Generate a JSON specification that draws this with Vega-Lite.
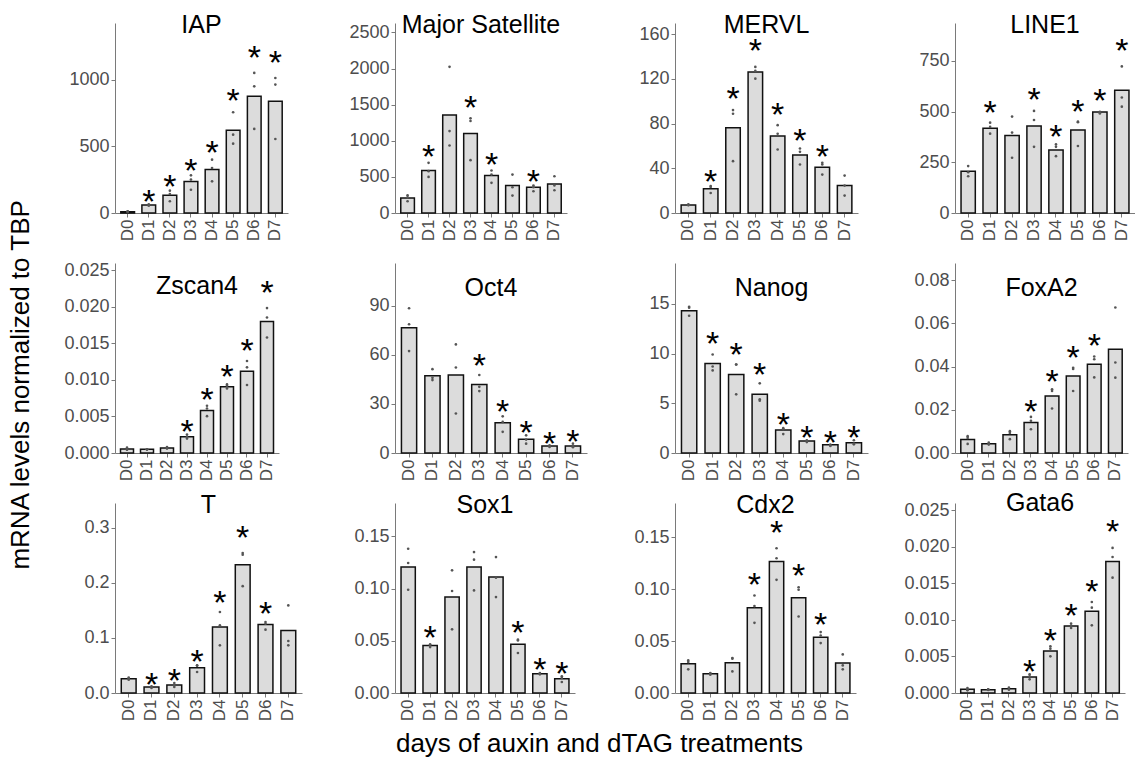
{
  "$schema": "https://vega.github.io/schema/vega-lite/v6.json",
  "background": "white",
  "padding": {"left": 7, "top": 13, "right": 0, "bottom": 0},
  "title": {"text": "mRNA levels normalized to TBP", "orient": "left", "fontSize": 26, "offset": 30, "anchor": "middle", "color": "black", "fontWeight": "normal", "font": "Liberation Sans"},
  "datasets": {
    "d": [
      {"g": "IAP", "d": "D0", "m": 10, "r1": 12, "r2": 9, "r3": 10, "s": 0},
      {"g": "IAP", "d": "D1", "m": 60, "r1": 65, "r2": 60, "r3": 55, "s": 1},
      {"g": "IAP", "d": "D2", "m": 133, "r1": 168, "r2": 143, "r3": 88, "s": 1},
      {"g": "IAP", "d": "D3", "m": 236, "r1": 283, "r2": 251, "r3": 175, "s": 1},
      {"g": "IAP", "d": "D4", "m": 326, "r1": 401, "r2": 338, "r3": 238, "s": 1},
      {"g": "IAP", "d": "D5", "m": 622, "r1": 757, "r2": 589, "r3": 521, "s": 1},
      {"g": "IAP", "d": "D6", "m": 877, "r1": 1053, "r2": 952, "r3": 632, "s": 1},
      {"g": "IAP", "d": "D7", "m": 840, "r1": 1015, "r2": 965, "r3": 556, "s": 1},
      {"g": "MS", "d": "D0", "m": 208, "r1": 245, "r2": 217, "r3": 162, "s": 0},
      {"g": "MS", "d": "D1", "m": 588, "r1": 694, "r2": 579, "r3": 500, "s": 1},
      {"g": "MS", "d": "D2", "m": 1356, "r1": 2023, "r2": 1134, "r3": 935, "s": 0},
      {"g": "MS", "d": "D3", "m": 1102, "r1": 1310, "r2": 1273, "r3": 731, "s": 1},
      {"g": "MS", "d": "D4", "m": 518, "r1": 588, "r2": 532, "r3": 417, "s": 1},
      {"g": "MS", "d": "D5", "m": 380, "r1": 532, "r2": 356, "r3": 241, "s": 0},
      {"g": "MS", "d": "D6", "m": 356, "r1": 380, "r2": 356, "r3": 301, "s": 1},
      {"g": "MS", "d": "D7", "m": 403, "r1": 509, "r2": 380, "r3": 315, "s": 0},
      {"g": "MERVL", "d": "D0", "m": 7.2, "r1": 7.8, "r2": 7.2, "r3": 6.9, "s": 0},
      {"g": "MERVL", "d": "D1", "m": 21.8, "r1": 24.2, "r2": 23.3, "r3": 17.9, "s": 1},
      {"g": "MERVL", "d": "D2", "m": 76.3, "r1": 92.1, "r2": 88.8, "r3": 46.4, "s": 1},
      {"g": "MERVL", "d": "D3", "m": 126.2, "r1": 130.7, "r2": 127.1, "r3": 120.2, "s": 1},
      {"g": "MERVL", "d": "D4", "m": 68.8, "r1": 78.6, "r2": 70.9, "r3": 56.8, "s": 1},
      {"g": "MERVL", "d": "D5", "m": 52, "r1": 57.7, "r2": 54.7, "r3": 43.4, "s": 1},
      {"g": "MERVL", "d": "D6", "m": 41, "r1": 44.9, "r2": 43.4, "r3": 34.4, "s": 1},
      {"g": "MERVL", "d": "D7", "m": 24.5, "r1": 33.5, "r2": 24.5, "r3": 15.6, "s": 0},
      {"g": "LINE1", "d": "D0", "m": 206, "r1": 231, "r2": 201, "r3": 181, "s": 0},
      {"g": "LINE1", "d": "D1", "m": 417, "r1": 445, "r2": 424, "r3": 391, "s": 1},
      {"g": "LINE1", "d": "D2", "m": 382, "r1": 475, "r2": 396, "r3": 272, "s": 0},
      {"g": "LINE1", "d": "D3", "m": 428, "r1": 503, "r2": 458, "r3": 326, "s": 1},
      {"g": "LINE1", "d": "D4", "m": 310, "r1": 338, "r2": 326, "r3": 280, "s": 1},
      {"g": "LINE1", "d": "D5", "m": 409, "r1": 450, "r2": 447, "r3": 330, "s": 1},
      {"g": "LINE1", "d": "D6", "m": 498, "r1": 498, "r2": 494, "r3": 490, "s": 1},
      {"g": "LINE1", "d": "D7", "m": 605, "r1": 722, "r2": 569, "r3": 524, "s": 1},
      {"g": "Zscan4", "d": "D0", "m": 0.00055, "r1": 0.00073, "r2": 0.0005, "r3": 0.00046, "s": 0},
      {"g": "Zscan4", "d": "D1", "m": 0.0005, "r1": 0.00052, "r2": 0.0005, "r3": 0.00048, "s": 0},
      {"g": "Zscan4", "d": "D2", "m": 0.00069, "r1": 0.00082, "r2": 0.00069, "r3": 0.0006, "s": 0},
      {"g": "Zscan4", "d": "D3", "m": 0.00224, "r1": 0.00252, "r2": 0.0022, "r3": 0.00197, "s": 1},
      {"g": "Zscan4", "d": "D4", "m": 0.00581, "r1": 0.00646, "r2": 0.00609, "r3": 0.00504, "s": 1},
      {"g": "Zscan4", "d": "D5", "m": 0.00907, "r1": 0.00939, "r2": 0.0092, "r3": 0.00884, "s": 1},
      {"g": "Zscan4", "d": "D6", "m": 0.01117, "r1": 0.01259, "r2": 0.01172, "r3": 0.0093, "s": 1},
      {"g": "Zscan4", "d": "D7", "m": 0.018, "r1": 0.01983, "r2": 0.01854, "r3": 0.0158, "s": 1},
      {"g": "Oct4", "d": "D0", "m": 76.5, "r1": 88.4, "r2": 78.6, "r3": 62.2, "s": 0},
      {"g": "Oct4", "d": "D1", "m": 47.1, "r1": 51.2, "r2": 45.9, "r3": 44.5, "s": 0},
      {"g": "Oct4", "d": "D2", "m": 47.6, "r1": 66.3, "r2": 52.2, "r3": 24.1, "s": 0},
      {"g": "Oct4", "d": "D3", "m": 41.8, "r1": 47.6, "r2": 40.4, "r3": 37.8, "s": 1},
      {"g": "Oct4", "d": "D4", "m": 18.4, "r1": 22.4, "r2": 19.0, "r3": 12.9, "s": 1},
      {"g": "Oct4", "d": "D5", "m": 8.4, "r1": 10.8, "r2": 8.2, "r3": 5.7, "s": 1},
      {"g": "Oct4", "d": "D6", "m": 4.3, "r1": 4.7, "r2": 4.3, "r3": 3.7, "s": 1},
      {"g": "Oct4", "d": "D7", "m": 4.3, "r1": 5.7, "r2": 4.1, "r3": 3.5, "s": 1},
      {"g": "Nanog", "d": "D0", "m": 14.3, "r1": 14.7, "r2": 14.6, "r3": 13.8, "s": 0},
      {"g": "Nanog", "d": "D1", "m": 9.0, "r1": 9.9, "r2": 8.7, "r3": 8.3, "s": 1},
      {"g": "Nanog", "d": "D2", "m": 7.9, "r1": 8.9, "r2": 8.9, "r3": 5.9, "s": 1},
      {"g": "Nanog", "d": "D3", "m": 5.9, "r1": 7.0, "r2": 5.4, "r3": 5.25, "s": 1},
      {"g": "Nanog", "d": "D4", "m": 2.3, "r1": 2.5, "r2": 2.4, "r3": 1.9, "s": 1},
      {"g": "Nanog", "d": "D5", "m": 1.2, "r1": 1.28, "r2": 1.2, "r3": 1.1, "s": 1},
      {"g": "Nanog", "d": "D6", "m": 0.84, "r1": 0.84, "r2": 0.77, "r3": 0.7, "s": 1},
      {"g": "Nanog", "d": "D7", "m": 1.04, "r1": 1.28, "r2": 0.94, "r3": 0.87, "s": 1},
      {"g": "FoxA2", "d": "D0", "m": 0.0062, "r1": 0.0078, "r2": 0.007, "r3": 0.0042, "s": 0},
      {"g": "FoxA2", "d": "D1", "m": 0.0043, "r1": 0.0048, "r2": 0.0043, "r3": 0.0039, "s": 0},
      {"g": "FoxA2", "d": "D2", "m": 0.0084, "r1": 0.0101, "r2": 0.0093, "r3": 0.0064, "s": 0},
      {"g": "FoxA2", "d": "D3", "m": 0.0141, "r1": 0.0167, "r2": 0.0149, "r3": 0.011, "s": 1},
      {"g": "FoxA2", "d": "D4", "m": 0.0264, "r1": 0.0295, "r2": 0.0287, "r3": 0.0206, "s": 1},
      {"g": "FoxA2", "d": "D5", "m": 0.0357, "r1": 0.0395, "r2": 0.0389, "r3": 0.0287, "s": 1},
      {"g": "FoxA2", "d": "D6", "m": 0.0411, "r1": 0.0447, "r2": 0.0434, "r3": 0.035, "s": 1},
      {"g": "FoxA2", "d": "D7", "m": 0.0481, "r1": 0.0674, "r2": 0.0419, "r3": 0.0349, "s": 0},
      {"g": "T", "d": "D0", "m": 0.026, "r1": 0.0278, "r2": 0.026, "r3": 0.0242, "s": 0},
      {"g": "T", "d": "D1", "m": 0.0109, "r1": 0.0121, "r2": 0.0109, "r3": 0.0091, "s": 1},
      {"g": "T", "d": "D2", "m": 0.0145, "r1": 0.0181, "r2": 0.0139, "r3": 0.0109, "s": 1},
      {"g": "T", "d": "D3", "m": 0.046, "r1": 0.0502, "r2": 0.0497, "r3": 0.0381, "s": 1},
      {"g": "T", "d": "D4", "m": 0.12, "r1": 0.147, "r2": 0.1228, "r3": 0.0865, "s": 1},
      {"g": "T", "d": "D5", "m": 0.233, "r1": 0.254, "r2": 0.251, "r3": 0.194, "s": 1},
      {"g": "T", "d": "D6", "m": 0.1246, "r1": 0.1289, "r2": 0.1258, "r3": 0.115, "s": 1},
      {"g": "T", "d": "D7", "m": 0.1137, "r1": 0.159, "r2": 0.0944, "r3": 0.0865, "s": 0},
      {"g": "Sox1", "d": "D0", "m": 0.1207, "r1": 0.1382, "r2": 0.1245, "r3": 0.0989, "s": 0},
      {"g": "Sox1", "d": "D1", "m": 0.0456, "r1": 0.0466, "r2": 0.0456, "r3": 0.044, "s": 1},
      {"g": "Sox1", "d": "D2", "m": 0.0919, "r1": 0.1175, "r2": 0.0977, "r3": 0.061, "s": 0},
      {"g": "Sox1", "d": "D3", "m": 0.1207, "r1": 0.135, "r2": 0.1277, "r3": 0.0983, "s": 0},
      {"g": "Sox1", "d": "D4", "m": 0.111, "r1": 0.1302, "r2": 0.1104, "r3": 0.0919, "s": 0},
      {"g": "Sox1", "d": "D5", "m": 0.0466, "r1": 0.0511, "r2": 0.0504, "r3": 0.0383, "s": 1},
      {"g": "Sox1", "d": "D6", "m": 0.0185, "r1": 0.0191, "r2": 0.0185, "r3": 0.0179, "s": 1},
      {"g": "Sox1", "d": "D7", "m": 0.0137, "r1": 0.016, "r2": 0.0144, "r3": 0.0105, "s": 1},
      {"g": "Cdx2", "d": "D0", "m": 0.0282, "r1": 0.0314, "r2": 0.0298, "r3": 0.0228, "s": 0},
      {"g": "Cdx2", "d": "D1", "m": 0.0186, "r1": 0.0192, "r2": 0.0186, "r3": 0.0176, "s": 0},
      {"g": "Cdx2", "d": "D2", "m": 0.0292, "r1": 0.0337, "r2": 0.0331, "r3": 0.0208, "s": 0},
      {"g": "Cdx2", "d": "D3", "m": 0.082, "r1": 0.0939, "r2": 0.0837, "r3": 0.0676, "s": 1},
      {"g": "Cdx2", "d": "D4", "m": 0.1266, "r1": 0.1394, "r2": 0.1298, "r3": 0.109, "s": 1},
      {"g": "Cdx2", "d": "D5", "m": 0.0917, "r1": 0.1019, "r2": 0.0994, "r3": 0.0737, "s": 1},
      {"g": "Cdx2", "d": "D6", "m": 0.0538, "r1": 0.0587, "r2": 0.0554, "r3": 0.0481, "s": 1},
      {"g": "Cdx2", "d": "D7", "m": 0.0288, "r1": 0.0372, "r2": 0.0266, "r3": 0.0228, "s": 0},
      {"g": "Gata6", "d": "D0", "m": 0.0005, "r1": 0.00068, "r2": 0.00046, "r3": 0.00036, "s": 0},
      {"g": "Gata6", "d": "D1", "m": 0.00046, "r1": 0.0005, "r2": 0.00046, "r3": 0.00042, "s": 0},
      {"g": "Gata6", "d": "D2", "m": 0.00059, "r1": 0.00073, "r2": 0.00055, "r3": 0.00046, "s": 0},
      {"g": "Gata6", "d": "D3", "m": 0.00219, "r1": 0.00255, "r2": 0.00228, "r3": 0.00187, "s": 1},
      {"g": "Gata6", "d": "D4", "m": 0.00575, "r1": 0.00639, "r2": 0.00607, "r3": 0.00502, "s": 1},
      {"g": "Gata6", "d": "D5", "m": 0.00917, "r1": 0.00949, "r2": 0.00912, "r3": 0.0089, "s": 1},
      {"g": "Gata6", "d": "D6", "m": 0.0112, "r1": 0.01245, "r2": 0.01168, "r3": 0.00926, "s": 1},
      {"g": "Gata6", "d": "D7", "m": 0.018, "r1": 0.01985, "r2": 0.01861, "r3": 0.01578, "s": 1}
    ]
  },
  "data": {"name": "d"},
  "vconcat": [
    {
      "title": {"text": "days of auxin and dTAG treatments", "orient": "bottom", "fontSize": 26, "offset": 10, "anchor": "middle", "color": "black", "fontWeight": "normal", "font": "Liberation Sans"},
      "columns": 4,
      "spacing": {"row": 50, "column": 87},
      "bounds": "flush",
      "align": "all",
      "concat": [
        {
          "width": 173, "height": 190,
          "title": {"text": "IAP", "offset": -15},
          "transform": [{"filter": "datum.g == 'IAP'"}],
          "encoding": {"x": {"field": "d", "type": "nominal", "title": null, "scale": {"paddingInner": 0.35, "paddingOuter": 0.275}}},
          "layer": [
            {"mark": {"type": "bar", "fill": "#dcdcdc", "stroke": "#111111", "strokeWidth": 1.5},
             "encoding": {"y": {"field": "m", "type": "quantitative", "title": null, "scale": {"domain": [0, 1428], "nice": false}, "axis": {"values": [0, 500, 1000], "format": "d"}}}},
            {"transform": [{"fold": ["r1", "r2", "r3"], "as": ["k", "v"]}],
             "mark": {"type": "circle", "size": 7, "color": "#555555", "opacity": 1},
             "encoding": {"y": {"field": "v", "type": "quantitative", "scale": {"domain": [0, 1428], "nice": false}, "axis": null}}},
            {"transform": [{"filter": "datum.s == 1"}, {"fold": ["r1", "r2", "r3"], "as": ["k", "v"]}],
             "mark": {"type": "text", "text": "*", "fontSize": 34, "baseline": "alphabetic", "dy": 10, "color": "black"},
             "encoding": {"y": {"field": "v", "aggregate": "max", "type": "quantitative", "scale": {"domain": [0, 1298], "nice": false}, "axis": null}}}
          ],
          "resolve": {"scale": {"y": "independent"}}
        },
        {
          "width": 172, "height": 190,
          "title": {"text": "Major Satellite", "offset": -15},
          "transform": [{"filter": "datum.g == 'MS'"}],
          "encoding": {"x": {"field": "d", "type": "nominal", "title": null, "scale": {"paddingInner": 0.35, "paddingOuter": 0.275}}},
          "layer": [
            {"mark": {"type": "bar", "fill": "#dcdcdc", "stroke": "#111111", "strokeWidth": 1.5},
             "encoding": {"y": {"field": "m", "type": "quantitative", "title": null, "scale": {"domain": [0, 2630], "nice": false}, "axis": {"values": [0, 500, 1000, 1500, 2000, 2500], "format": "d"}}}},
            {"transform": [{"fold": ["r1", "r2", "r3"], "as": ["k", "v"]}],
             "mark": {"type": "circle", "size": 7, "color": "#555555", "opacity": 1},
             "encoding": {"y": {"field": "v", "type": "quantitative", "scale": {"domain": [0, 2630], "nice": false}, "axis": null}}},
            {"transform": [{"filter": "datum.s == 1"}, {"fold": ["r1", "r2", "r3"], "as": ["k", "v"]}],
             "mark": {"type": "text", "text": "*", "fontSize": 34, "baseline": "alphabetic", "dy": 10, "color": "black"},
             "encoding": {"y": {"field": "v", "aggregate": "max", "type": "quantitative", "scale": {"domain": [0, 2391], "nice": false}, "axis": null}}}
          ],
          "resolve": {"scale": {"y": "independent"}}
        },
        {
          "width": 183, "height": 190,
          "title": {"text": "MERVL", "offset": -15},
          "transform": [{"filter": "datum.g == 'MERVL'"}],
          "encoding": {"x": {"field": "d", "type": "nominal", "title": null, "scale": {"paddingInner": 0.35, "paddingOuter": 0.275}}},
          "layer": [
            {"mark": {"type": "bar", "fill": "#dcdcdc", "stroke": "#111111", "strokeWidth": 1.5},
             "encoding": {"y": {"field": "m", "type": "quantitative", "title": null, "scale": {"domain": [0, 170], "nice": false}, "axis": {"values": [0, 40, 80, 120, 160], "format": "d"}}}},
            {"transform": [{"fold": ["r1", "r2", "r3"], "as": ["k", "v"]}],
             "mark": {"type": "circle", "size": 7, "color": "#555555", "opacity": 1},
             "encoding": {"y": {"field": "v", "type": "quantitative", "scale": {"domain": [0, 170], "nice": false}, "axis": null}}},
            {"transform": [{"filter": "datum.s == 1"}, {"fold": ["r1", "r2", "r3"], "as": ["k", "v"]}],
             "mark": {"type": "text", "text": "*", "fontSize": 34, "baseline": "alphabetic", "dy": 10, "color": "black"},
             "encoding": {"y": {"field": "v", "aggregate": "max", "type": "quantitative", "scale": {"domain": [0, 154.5], "nice": false}, "axis": null}}}
          ],
          "resolve": {"scale": {"y": "independent"}}
        },
        {
          "width": 180, "height": 190,
          "title": {"text": "LINE1", "offset": -15},
          "transform": [{"filter": "datum.g == 'LINE1'"}],
          "encoding": {"x": {"field": "d", "type": "nominal", "title": null, "scale": {"paddingInner": 0.35, "paddingOuter": 0.275}}},
          "layer": [
            {"mark": {"type": "bar", "fill": "#dcdcdc", "stroke": "#111111", "strokeWidth": 1.5},
             "encoding": {"y": {"field": "m", "type": "quantitative", "title": null, "scale": {"domain": [0, 936], "nice": false}, "axis": {"values": [0, 250, 500, 750], "format": "d"}}}},
            {"transform": [{"fold": ["r1", "r2", "r3"], "as": ["k", "v"]}],
             "mark": {"type": "circle", "size": 7, "color": "#555555", "opacity": 1},
             "encoding": {"y": {"field": "v", "type": "quantitative", "scale": {"domain": [0, 936], "nice": false}, "axis": null}}},
            {"transform": [{"filter": "datum.s == 1"}, {"fold": ["r1", "r2", "r3"], "as": ["k", "v"]}],
             "mark": {"type": "text", "text": "*", "fontSize": 34, "baseline": "alphabetic", "dy": 10, "color": "black"},
             "encoding": {"y": {"field": "v", "aggregate": "max", "type": "quantitative", "scale": {"domain": [0, 851], "nice": false}, "axis": null}}}
          ],
          "resolve": {"scale": {"y": "independent"}}
        },
        {
          "width": 164, "height": 190,
          "title": {"text": "Zscan4", "offset": -38},
          "transform": [{"filter": "datum.g == 'Zscan4'"}],
          "encoding": {"x": {"field": "d", "type": "nominal", "title": null, "scale": {"paddingInner": 0.35, "paddingOuter": 0.275}}},
          "layer": [
            {"mark": {"type": "bar", "fill": "#dcdcdc", "stroke": "#111111", "strokeWidth": 1.5},
             "encoding": {"y": {"field": "m", "type": "quantitative", "title": null, "scale": {"domain": [0, 0.026], "nice": false}, "axis": {"values": [0, 0.005, 0.01, 0.015, 0.02, 0.025], "format": ".3f"}}}},
            {"transform": [{"fold": ["r1", "r2", "r3"], "as": ["k", "v"]}],
             "mark": {"type": "circle", "size": 7, "color": "#555555", "opacity": 1},
             "encoding": {"y": {"field": "v", "type": "quantitative", "scale": {"domain": [0, 0.026], "nice": false}, "axis": null}}},
            {"transform": [{"filter": "datum.s == 1"}, {"fold": ["r1", "r2", "r3"], "as": ["k", "v"]}],
             "mark": {"type": "text", "text": "*", "fontSize": 34, "baseline": "alphabetic", "dy": 10, "color": "black"},
             "encoding": {"y": {"field": "v", "aggregate": "max", "type": "quantitative", "scale": {"domain": [0, 0.023636], "nice": false}, "axis": null}}}
          ],
          "resolve": {"scale": {"y": "independent"}}
        },
        {
          "width": 192, "height": 190,
          "title": {"text": "Oct4", "offset": -38},
          "transform": [{"filter": "datum.g == 'Oct4'"}],
          "encoding": {"x": {"field": "d", "type": "nominal", "title": null, "scale": {"paddingInner": 0.35, "paddingOuter": 0.275}}},
          "layer": [
            {"mark": {"type": "bar", "fill": "#dcdcdc", "stroke": "#111111", "strokeWidth": 1.5},
             "encoding": {"y": {"field": "m", "type": "quantitative", "title": null, "scale": {"domain": [0, 116], "nice": false}, "axis": {"values": [0, 30, 60, 90], "format": "d"}}}},
            {"transform": [{"fold": ["r1", "r2", "r3"], "as": ["k", "v"]}],
             "mark": {"type": "circle", "size": 7, "color": "#555555", "opacity": 1},
             "encoding": {"y": {"field": "v", "type": "quantitative", "scale": {"domain": [0, 116], "nice": false}, "axis": null}}},
            {"transform": [{"filter": "datum.s == 1"}, {"fold": ["r1", "r2", "r3"], "as": ["k", "v"]}],
             "mark": {"type": "text", "text": "*", "fontSize": 34, "baseline": "alphabetic", "dy": 10, "color": "black"},
             "encoding": {"y": {"field": "v", "aggregate": "max", "type": "quantitative", "scale": {"domain": [0, 105.45], "nice": false}, "axis": null}}}
          ],
          "resolve": {"scale": {"y": "independent"}}
        },
        {
          "width": 193, "height": 190,
          "title": {"text": "Nanog", "offset": -38},
          "transform": [{"filter": "datum.g == 'Nanog'"}],
          "encoding": {"x": {"field": "d", "type": "nominal", "title": null, "scale": {"paddingInner": 0.35, "paddingOuter": 0.275}}},
          "layer": [
            {"mark": {"type": "bar", "fill": "#dcdcdc", "stroke": "#111111", "strokeWidth": 1.5},
             "encoding": {"y": {"field": "m", "type": "quantitative", "title": null, "scale": {"domain": [0, 19.1], "nice": false}, "axis": {"values": [0, 5, 10, 15], "format": "d"}}}},
            {"transform": [{"fold": ["r1", "r2", "r3"], "as": ["k", "v"]}],
             "mark": {"type": "circle", "size": 7, "color": "#555555", "opacity": 1},
             "encoding": {"y": {"field": "v", "type": "quantitative", "scale": {"domain": [0, 19.1], "nice": false}, "axis": null}}},
            {"transform": [{"filter": "datum.s == 1"}, {"fold": ["r1", "r2", "r3"], "as": ["k", "v"]}],
             "mark": {"type": "text", "text": "*", "fontSize": 34, "baseline": "alphabetic", "dy": 10, "color": "black"},
             "encoding": {"y": {"field": "v", "aggregate": "max", "type": "quantitative", "scale": {"domain": [0, 17.36], "nice": false}, "axis": null}}}
          ],
          "resolve": {"scale": {"y": "independent"}}
        },
        {
          "width": 173, "height": 190,
          "title": {"text": "FoxA2", "offset": -38},
          "transform": [{"filter": "datum.g == 'FoxA2'"}],
          "encoding": {"x": {"field": "d", "type": "nominal", "title": null, "scale": {"paddingInner": 0.35, "paddingOuter": 0.275}}},
          "layer": [
            {"mark": {"type": "bar", "fill": "#dcdcdc", "stroke": "#111111", "strokeWidth": 1.5},
             "encoding": {"y": {"field": "m", "type": "quantitative", "title": null, "scale": {"domain": [0, 0.088], "nice": false}, "axis": {"values": [0, 0.02, 0.04, 0.06, 0.08], "format": ".2f"}}}},
            {"transform": [{"fold": ["r1", "r2", "r3"], "as": ["k", "v"]}],
             "mark": {"type": "circle", "size": 7, "color": "#555555", "opacity": 1},
             "encoding": {"y": {"field": "v", "type": "quantitative", "scale": {"domain": [0, 0.088], "nice": false}, "axis": null}}},
            {"transform": [{"filter": "datum.s == 1"}, {"fold": ["r1", "r2", "r3"], "as": ["k", "v"]}],
             "mark": {"type": "text", "text": "*", "fontSize": 34, "baseline": "alphabetic", "dy": 10, "color": "black"},
             "encoding": {"y": {"field": "v", "aggregate": "max", "type": "quantitative", "scale": {"domain": [0, 0.08], "nice": false}, "axis": null}}}
          ],
          "resolve": {"scale": {"y": "independent"}}
        },
        {
          "width": 187, "height": 190,
          "title": {"text": "T", "offset": -15},
          "transform": [{"filter": "datum.g == 'T'"}],
          "encoding": {"x": {"field": "d", "type": "nominal", "title": null, "scale": {"paddingInner": 0.35, "paddingOuter": 0.275}}},
          "layer": [
            {"mark": {"type": "bar", "fill": "#dcdcdc", "stroke": "#111111", "strokeWidth": 1.5},
             "encoding": {"y": {"field": "m", "type": "quantitative", "title": null, "scale": {"domain": [0, 0.345], "nice": false}, "axis": {"values": [0, 0.1, 0.2, 0.3], "format": ".1f"}}}},
            {"transform": [{"fold": ["r1", "r2", "r3"], "as": ["k", "v"]}],
             "mark": {"type": "circle", "size": 7, "color": "#555555", "opacity": 1},
             "encoding": {"y": {"field": "v", "type": "quantitative", "scale": {"domain": [0, 0.345], "nice": false}, "axis": null}}},
            {"transform": [{"filter": "datum.s == 1"}, {"fold": ["r1", "r2", "r3"], "as": ["k", "v"]}],
             "mark": {"type": "text", "text": "*", "fontSize": 34, "baseline": "alphabetic", "dy": 10, "color": "black"},
             "encoding": {"y": {"field": "v", "aggregate": "max", "type": "quantitative", "scale": {"domain": [0, 0.3136], "nice": false}, "axis": null}}}
          ],
          "resolve": {"scale": {"y": "independent"}}
        },
        {
          "width": 180, "height": 190,
          "title": {"text": "Sox1", "offset": -15},
          "transform": [{"filter": "datum.g == 'Sox1'"}],
          "encoding": {"x": {"field": "d", "type": "nominal", "title": null, "scale": {"paddingInner": 0.35, "paddingOuter": 0.275}}},
          "layer": [
            {"mark": {"type": "bar", "fill": "#dcdcdc", "stroke": "#111111", "strokeWidth": 1.5},
             "encoding": {"y": {"field": "m", "type": "quantitative", "title": null, "scale": {"domain": [0, 0.182], "nice": false}, "axis": {"values": [0, 0.05, 0.1, 0.15], "format": ".2f"}}}},
            {"transform": [{"fold": ["r1", "r2", "r3"], "as": ["k", "v"]}],
             "mark": {"type": "circle", "size": 7, "color": "#555555", "opacity": 1},
             "encoding": {"y": {"field": "v", "type": "quantitative", "scale": {"domain": [0, 0.182], "nice": false}, "axis": null}}},
            {"transform": [{"filter": "datum.s == 1"}, {"fold": ["r1", "r2", "r3"], "as": ["k", "v"]}],
             "mark": {"type": "text", "text": "*", "fontSize": 34, "baseline": "alphabetic", "dy": 10, "color": "black"},
             "encoding": {"y": {"field": "v", "aggregate": "max", "type": "quantitative", "scale": {"domain": [0, 0.16545], "nice": false}, "axis": null}}}
          ],
          "resolve": {"scale": {"y": "independent"}}
        },
        {
          "width": 181, "height": 190,
          "title": {"text": "Cdx2", "offset": -15},
          "transform": [{"filter": "datum.g == 'Cdx2'"}],
          "encoding": {"x": {"field": "d", "type": "nominal", "title": null, "scale": {"paddingInner": 0.35, "paddingOuter": 0.275}}},
          "layer": [
            {"mark": {"type": "bar", "fill": "#dcdcdc", "stroke": "#111111", "strokeWidth": 1.5},
             "encoding": {"y": {"field": "m", "type": "quantitative", "title": null, "scale": {"domain": [0, 0.183], "nice": false}, "axis": {"values": [0, 0.05, 0.1, 0.15], "format": ".2f"}}}},
            {"transform": [{"fold": ["r1", "r2", "r3"], "as": ["k", "v"]}],
             "mark": {"type": "circle", "size": 7, "color": "#555555", "opacity": 1},
             "encoding": {"y": {"field": "v", "type": "quantitative", "scale": {"domain": [0, 0.183], "nice": false}, "axis": null}}},
            {"transform": [{"filter": "datum.s == 1"}, {"fold": ["r1", "r2", "r3"], "as": ["k", "v"]}],
             "mark": {"type": "text", "text": "*", "fontSize": 34, "baseline": "alphabetic", "dy": 10, "color": "black"},
             "encoding": {"y": {"field": "v", "aggregate": "max", "type": "quantitative", "scale": {"domain": [0, 0.16636], "nice": false}, "axis": null}}}
          ],
          "resolve": {"scale": {"y": "independent"}}
        },
        {
          "width": 170, "height": 190,
          "title": {"text": "Gata6", "offset": -15},
          "transform": [{"filter": "datum.g == 'Gata6'"}],
          "encoding": {"x": {"field": "d", "type": "nominal", "title": null, "scale": {"paddingInner": 0.35, "paddingOuter": 0.275}}},
          "layer": [
            {"mark": {"type": "bar", "fill": "#dcdcdc", "stroke": "#111111", "strokeWidth": 1.5},
             "encoding": {"y": {"field": "m", "type": "quantitative", "title": null, "scale": {"domain": [0, 0.026], "nice": false}, "axis": {"values": [0, 0.005, 0.01, 0.015, 0.02, 0.025], "format": ".3f"}}}},
            {"transform": [{"fold": ["r1", "r2", "r3"], "as": ["k", "v"]}],
             "mark": {"type": "circle", "size": 7, "color": "#555555", "opacity": 1},
             "encoding": {"y": {"field": "v", "type": "quantitative", "scale": {"domain": [0, 0.026], "nice": false}, "axis": null}}},
            {"transform": [{"filter": "datum.s == 1"}, {"fold": ["r1", "r2", "r3"], "as": ["k", "v"]}],
             "mark": {"type": "text", "text": "*", "fontSize": 34, "baseline": "alphabetic", "dy": 10, "color": "black"},
             "encoding": {"y": {"field": "v", "aggregate": "max", "type": "quantitative", "scale": {"domain": [0, 0.023636], "nice": false}, "axis": null}}}
          ],
          "resolve": {"scale": {"y": "independent"}}
        }
      ]
    }
  ],
  "config": {
    "font": "Liberation Sans",
    "view": {"stroke": null},
    "axis": {"grid": false, "domainColor": "#7a7a7a", "tickColor": "#7a7a7a", "labelColor": "#4d4d4d", "labelFont": "Liberation Sans", "labelFontSize": 18, "tickSize": 4, "labelPadding": 2, "domainWidth": 1, "tickWidth": 1},
    "axisX": {"labelAngle": -90, "labelFontSize": 17},
    "title": {"font": "Liberation Sans", "fontSize": 25, "fontWeight": "normal", "color": "black", "anchor": "middle"}
  }
}
